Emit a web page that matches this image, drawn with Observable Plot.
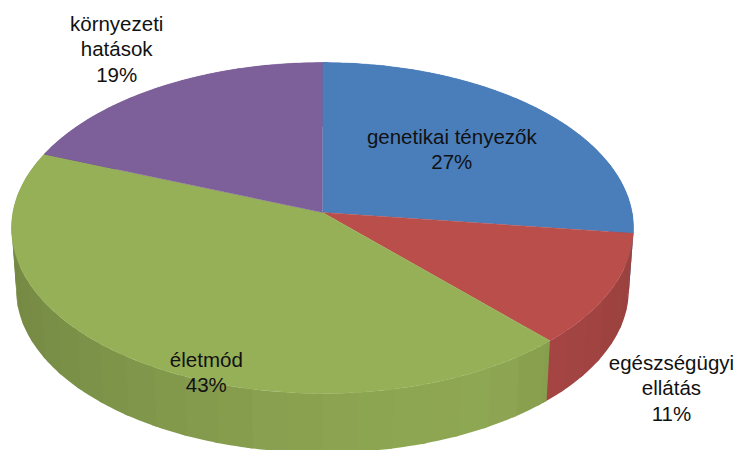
<!DOCTYPE html>
<html>
<head>
<meta charset="utf-8">
<style>html,body{margin:0;padding:0;background:#fff;overflow:hidden}svg{display:block}</style>
<script src="https://cdn.jsdelivr.net/npm/d3@7"></script>
<script src="https://cdn.jsdelivr.net/npm/@observablehq/plot@0.6"></script>
</head>
<body>
<div id="chart"></div>
<script>
// Data
const names = ["genetikai tényezők", "egészségügyi\nellátás", "életmód", "környezeti\nhatások"];
const values = [27, 11, 43, 19];
const colors = ["#4a7ebb", "#b94e4b", "#96b057", "#7d5f9a"];
// Label placement in disc units, relative to the slice's middle angle
const labelFactorX = [0.578, 1.15, 0.612, 1.305];
const labelFactorY = [0.614, 2.135, 1.075, 1.335];

// Perspective disc geometry
const cx = 322, cy = 212, A = 309.6, B = 164, k = 0.0937;
const depth = 62, shrink = 0.985;
const rad = d => d * Math.PI / 180;
function topPoint(theta) {
  const x = Math.sin(rad(theta)), y = -Math.cos(rad(theta)), w = 1 - k * y;
  return [cx + A * x / w, cy + B * y / w];
}
function bottomPoint(theta) {
  const [X, Y] = topPoint(theta);
  return [cx + shrink * (X - cx), cy + depth + shrink * (Y - cy)];
}
const total = d3.sum(values);
let acc = 0;
const slices = values.map((v, i) => {
  const a0 = acc / total * 360; acc += v;
  return {i, a0, a1: acc / total * 360, mid: (a0 + v / total * 180)};
});
const angles = (a, b, step) => d3.range(a, b, step).concat([b]);

// Wall shading by horizontal position
const shade = d3.scaleLinear().domain([-1, -0.5, 0, 0.5, 0.75, 1]).range([0.78, 0.86, 0.93, 0.95, 0.88, 0.83]);
const wallRows = [], faceRows = [];
for (const s of slices) {
  const base = d3.rgb(colors[s.i]);
  const cuts = [s.a0, ...d3.range(Math.ceil(s.a0 / 6) * 6, s.a1, 6), s.a1];
  cuts.slice(1).forEach((b, j) => {
    const a = cuts[j], m = (a + b) / 2;
    const f = shade(Math.sin(rad(m)));
    const c = d3.rgb(base.r * f, base.g * f, base.b * f).formatHex();
    const id = `w${s.i}-${j}`;
    const arc = angles(a, b + 1, 1);
    for (const t of arc) { const [x, y] = topPoint(t); wallRows.push({id, x, y, color: c}); }
    for (const t of arc.slice().reverse()) { const [x, y] = bottomPoint(t); wallRows.push({id, x, y, color: c}); }
  });
  const id = `f${s.i}`, c = colors[s.i];
  faceRows.push({id, x: cx, y: cy, color: c});
  for (const t of angles(s.a0, s.a1, 0.5)) { const [x, y] = topPoint(t); faceRows.push({id, x, y, color: c}); }
}
const labels = slices.map(s => {
  const th = rad(s.mid);
  const x = labelFactorX[s.i] * Math.sin(th), y = -labelFactorY[s.i] * Math.cos(th), w = 1 - k * y;
  return {x: cx + A * x / w, y: cy + B * y / w, text: `${names[s.i]}\n${values[s.i]}%`};
});

const chart = Plot.plot({
  width: 735, height: 450,
  margin: 0,
  x: {domain: [0, 735], range: [0, 735], axis: null},
  y: {domain: [0, 450], range: [0, 450], axis: null},
  color: {type: "identity"},
  style: {background: "#fff"},
  marks: [
    Plot.line(wallRows, {x: "x", y: "y", z: "id", fill: "color", stroke: "none", curve: "linear"}),
    Plot.line(faceRows, {x: "x", y: "y", z: "id", fill: "color", stroke: "color", strokeWidth: 0.4, curve: "linear"}),
    Plot.text(labels, {x: "x", y: "y", text: "text", fontSize: 20.5, lineHeight: 1.23, fill: "#111", fontFamily: "Liberation Sans, Arial, sans-serif"})
  ]
});
document.getElementById("chart").append(chart);
</script>
</body>
</html>
